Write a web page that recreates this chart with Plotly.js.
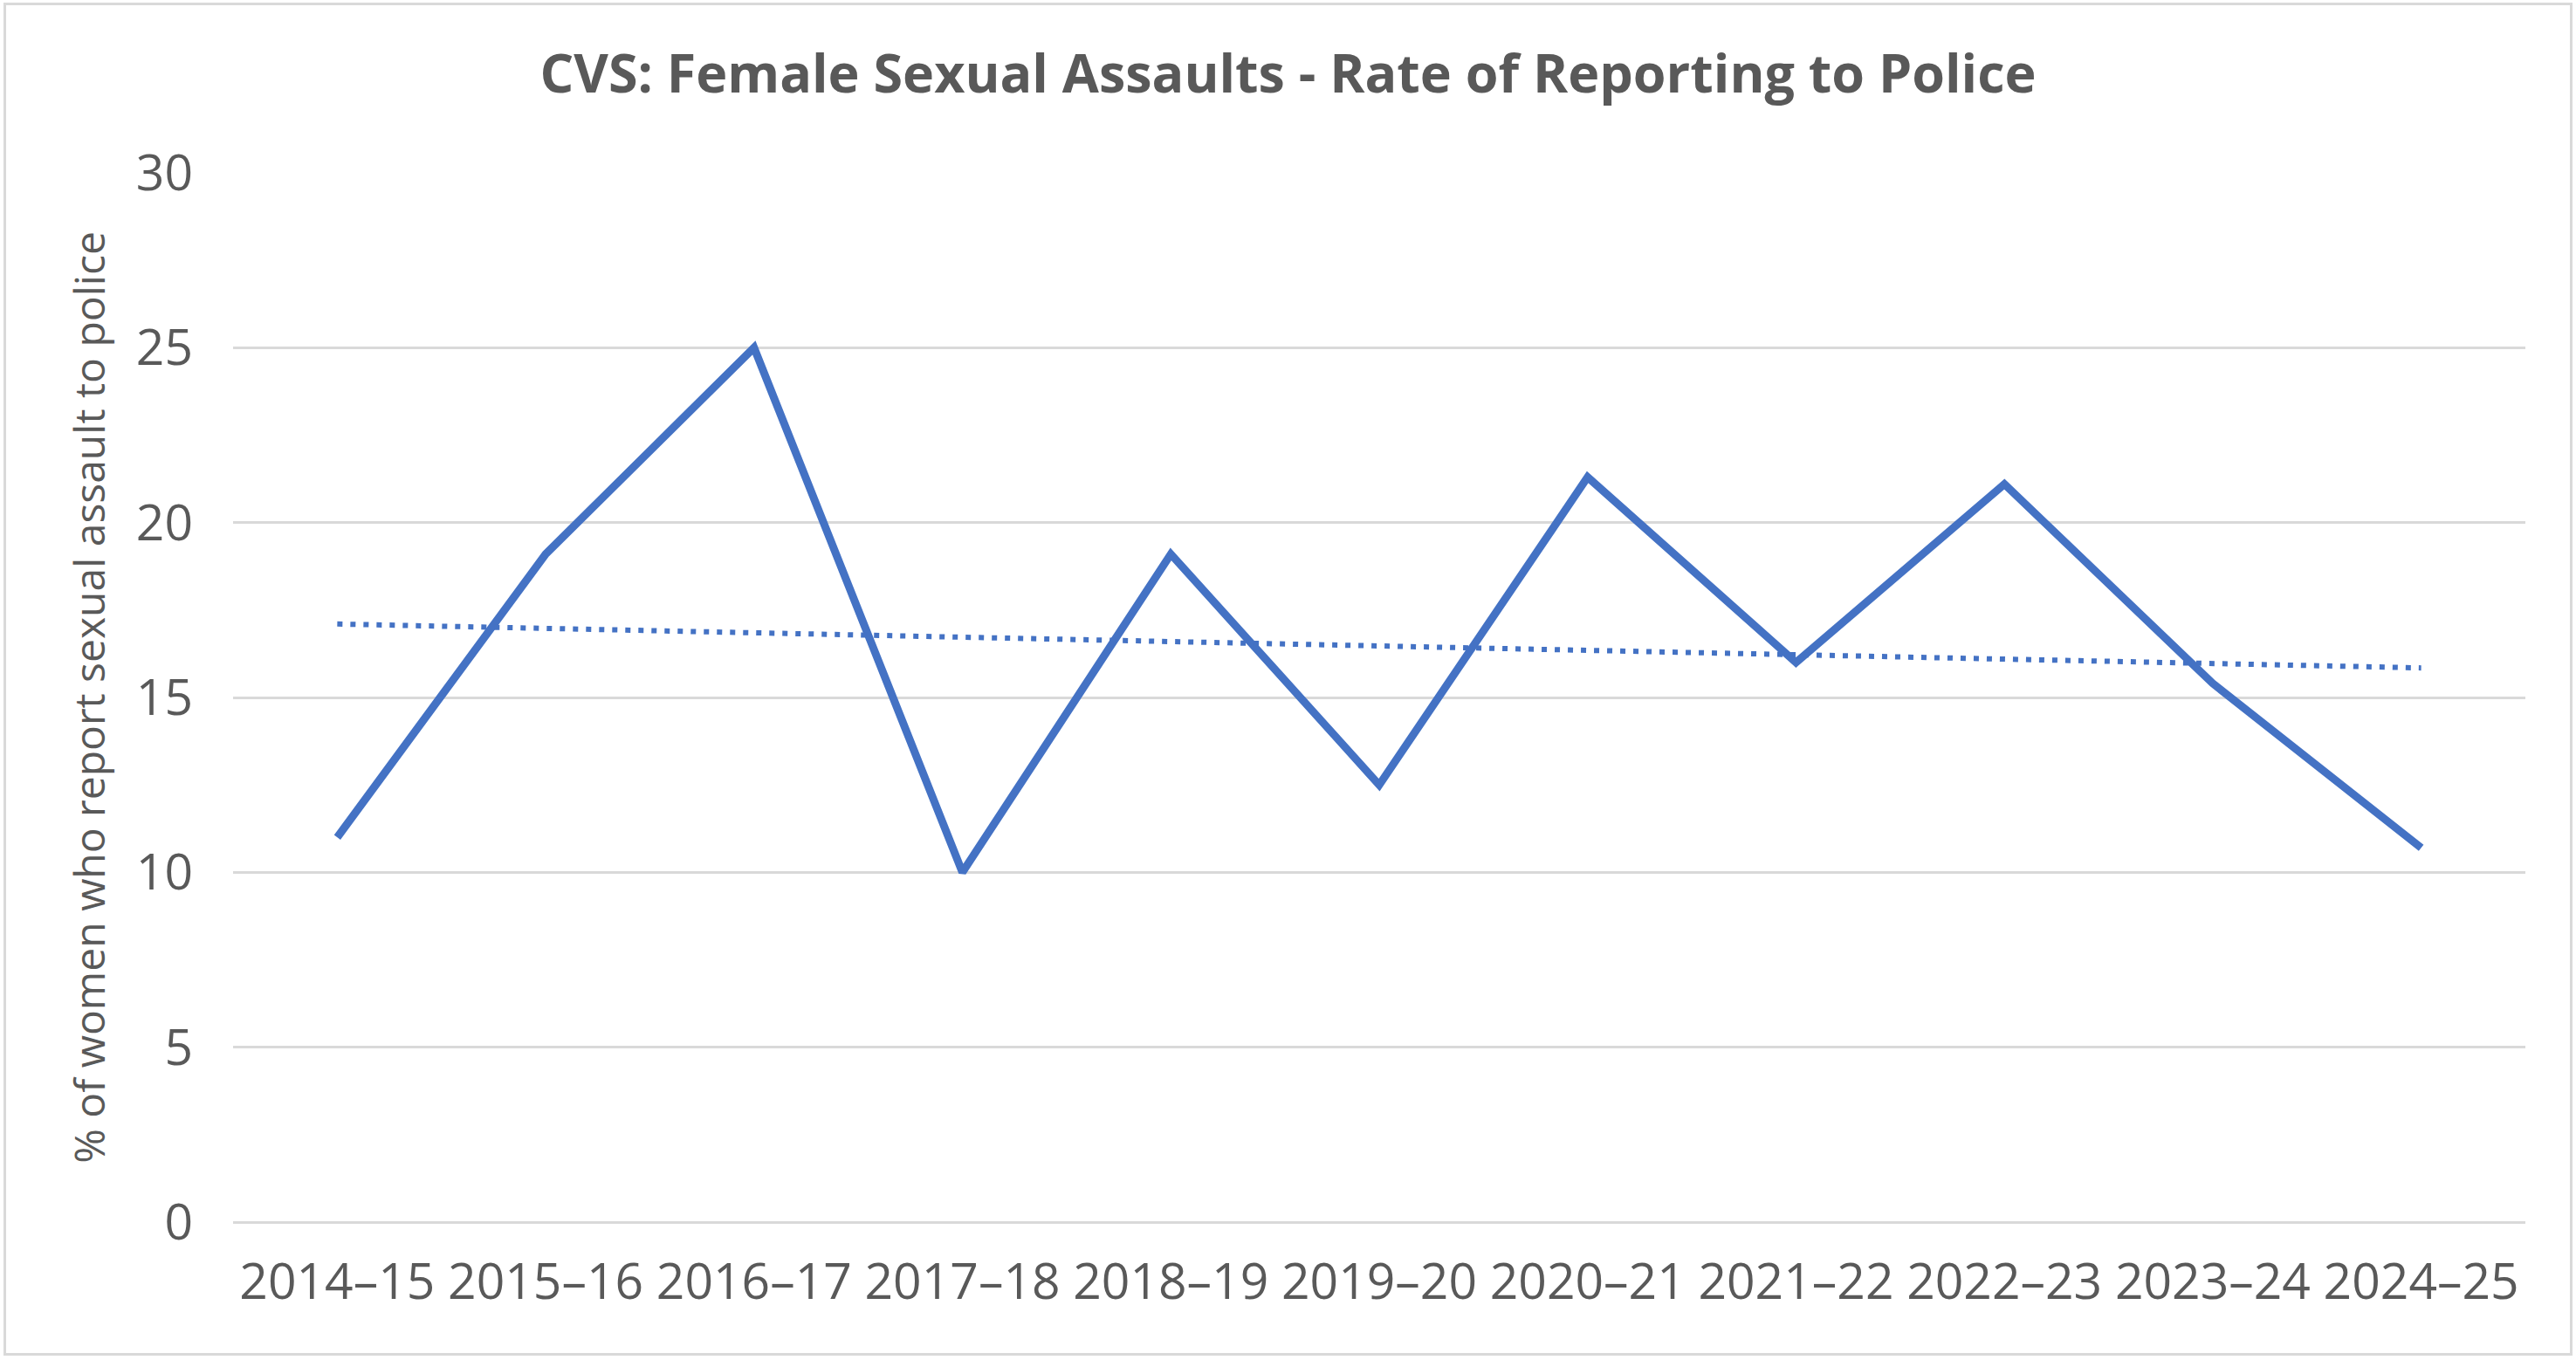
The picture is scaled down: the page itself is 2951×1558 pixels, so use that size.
<!DOCTYPE html>
<html>
<head>
<meta charset="utf-8">
<script src="https://cdn.plot.ly/plotly-3.0.1.min.js"></script>
<style>
  body { margin: 0; overflow: hidden; background: #fff; }
  #chart { width: 2951px; height: 1558px; }
  #frame { position: absolute; left: 4px; top: 3px; right: 4px; bottom: 5px;
           border: 3px solid #D9D9D9; pointer-events: none; }
</style>
</head>
<body>
<div id="chart"></div>
<div id="frame"></div>
<script>
// survey years (financial years)
var years = ['2014–15', '2015–16', '2016–17', '2017–18', '2018–19', '2019–20',
             '2020–21', '2021–22', '2022–23', '2023–24', '2024–25'];

// % of female sexual assault victims who reported to police
var reportRate = [11.0, 19.1, 25.0, 10.0, 19.1, 12.5, 21.3, 16.0, 21.1, 15.4, 10.7];

var yTicks = [0, 5, 10, 15, 20, 25, 30];

// linear trendline, least squares over the year index (as Excel does)
function linearTrend(vals) {
  var n = vals.length, sx = 0, sy = 0, sxy = 0, sxx = 0;
  for (var i = 0; i < n; i++) {
    sx += i; sy += vals[i]; sxy += i * vals[i]; sxx += i * i;
  }
  var slope = (n * sxy - sx * sy) / (n * sxx - sx * sx);
  var icpt = (sy - slope * sx) / n;
  return vals.map(function (v, i) { return icpt + slope * i; });
}

var blue = '#4472C4';
var grey = '#595959';

var series = {
  x: years,
  y: reportRate,
  type: 'scatter',
  mode: 'lines',
  line: { color: blue, width: 9 },
  hoverinfo: 'x+y'
};

var trend = {
  x: years,
  y: linearTrend(reportRate),
  type: 'scatter',
  mode: 'lines',
  line: { color: blue, width: 6, dash: '6px,9px' },
  hoverinfo: 'skip'
};

var layout = {
  width: 2951,
  height: 1558,
  margin: { l: 267, r: 58, t: 198, b: 158, autoexpand: false },
  paper_bgcolor: '#fff',
  plot_bgcolor: '#fff',
  showlegend: false,
  title: {
    text: 'CVS: Female Sexual Assaults - Rate of Reporting to Police',
    font: { family: 'Open Sans, sans-serif', size: 61, color: grey, weight: 'bold' },
    x: 0.5, xref: 'container', xanchor: 'center',
    y: 1 - 85 / 1558, yref: 'container', yanchor: 'middle'
  },
  xaxis: {
    type: 'category',
    range: [-0.5, years.length - 0.5],
    showgrid: false,
    showline: false,
    zeroline: false,
    ticks: '',
    ticklabelstandoff: 30,
    tickfont: { family: 'Open Sans, sans-serif', size: 57, color: grey }
  },
  yaxis: {
    range: [0, 30],
    tickvals: yTicks,
    showgrid: true,
    gridcolor: '#D9D9D9',
    gridwidth: 3,
    zeroline: true,
    zerolinecolor: '#D9D9D9',
    zerolinewidth: 3,
    showline: false,
    ticks: '',
    ticklabelstandoff: 45,
    tickfont: { family: 'Open Sans, sans-serif', size: 57, color: grey },
    title: {
      text: '% of women who report sexual assault to police',
      font: { family: 'Open Sans, sans-serif', size: 48, color: grey },
      standoff: 20
    }
  }
};

Plotly.newPlot('chart', [series, trend], layout, { displayModeBar: false, staticPlot: true });
</script>
</body>
</html>
